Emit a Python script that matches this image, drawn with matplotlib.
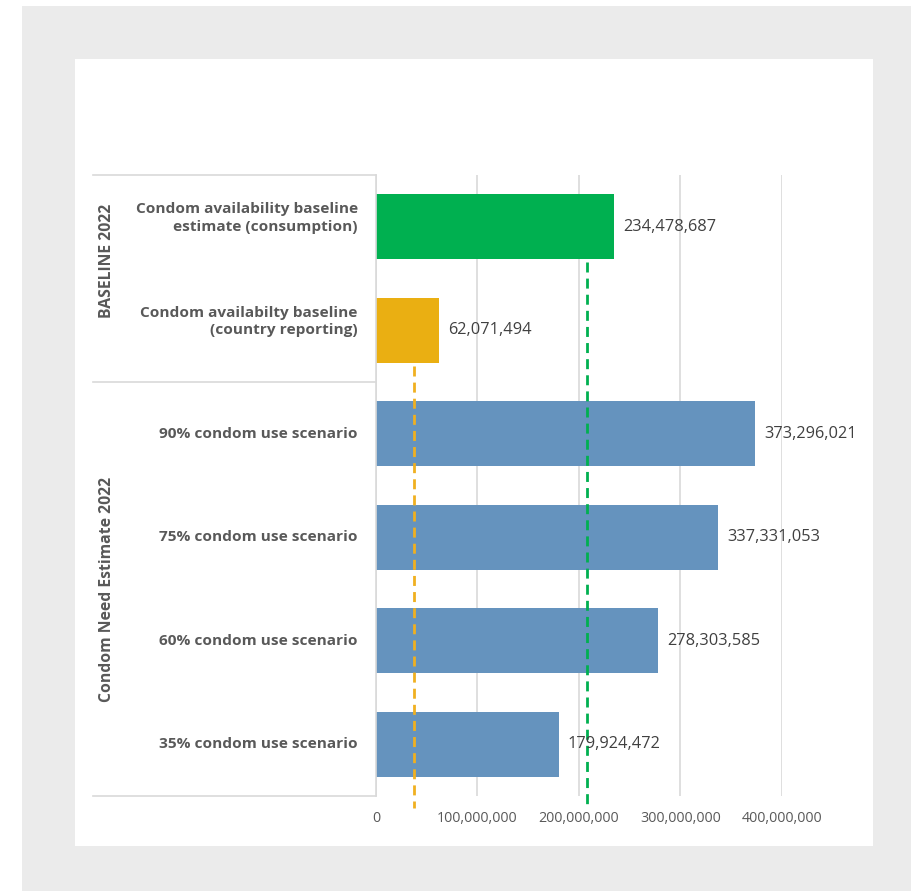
import matplotlib
matplotlib.use("Agg")
import matplotlib.pyplot as plt
from matplotlib.patches import Rectangle
from matplotlib.lines import Line2D
from matplotlib.ticker import FuncFormatter

plt.rcParams['font.family'] = ['Open Sans', 'DejaVu Sans']

# ---- data ----
categories = [
    "Condom availability baseline\nestimate (consumption)",
    "Condom availabilty baseline\n(country reporting)",
    "90% condom use scenario",
    "75% condom use scenario",
    "60% condom use scenario",
    "35% condom use scenario",
]
values = [234478687, 62071494, 373296021, 337331053, 278303585, 179924472]
bar_colors = ["#00B050", "#EAAF12", "#6593BE", "#6593BE", "#6593BE", "#6593BE"]
groups = ["BASELINE 2022", "Condom Need Estimate 2022"]
group_sizes = [2, 4]
reference_lines = [208000000, 37400000]   # green, yellow reference levels
reference_colors = ["#00B050", "#F0B020"]
reference_start = [0, 1]                  # category row each line starts below
x_ticks = [0, 100000000, 200000000, 300000000, 400000000]

W, H = 912, 891
fig = plt.figure(figsize=(W / 100, H / 100), dpi=100)
fig.patch.set_facecolor("white")

def px_rect(x0, y0, x1, y1, color):
    fig.add_artist(Rectangle((x0 / W, 1 - y1 / H), (x1 - x0) / W, (y1 - y0) / H,
                             transform=fig.transFigure, facecolor=color,
                             edgecolor="none", zorder=-10))

px_rect(22, 6, 912, 891, "#EBEBEB")
px_rect(75, 59, 873, 846, "white")

ax_l, ax_r, ax_t, ax_b = 376, 782, 175, 796
ax = fig.add_axes([ax_l / W, 1 - ax_b / H, (ax_r - ax_l) / W, (ax_b - ax_t) / H])
ax.set_facecolor("none")

n = len(categories)
ypos = list(range(n))
bar_h = 0.63
ax.barh(ypos, values, height=bar_h, color=bar_colors, zorder=2)
ax.set_ylim(n - 0.5, -0.5)
ax.set_xlim(0, x_ticks[-1])

# value labels
for y, v in zip(ypos, values):
    ax.text(v + 9e6, y, f"{v:,}", va="center", ha="left", fontsize=11.8,
            color="#404040", zorder=4, clip_on=False)

# dashed reference lines, extending just below the axis
y_bottom = n - 0.5 + 12 / ((ax_b - ax_t) / n)
for val, col, start in zip(reference_lines, reference_colors, reference_start):
    ax.plot([val, val], [start + bar_h / 2 + 0.03, y_bottom], color=col,
            lw=2.0, dashes=(3.6, 2.2), zorder=3, clip_on=False,
            solid_capstyle="butt", dash_capstyle="butt")

# grid & axes
ax.set_xticks(x_ticks)
ax.xaxis.set_major_formatter(FuncFormatter(lambda v, p: f"{int(v):,}"))
ax.tick_params(axis="x", length=0, pad=11, labelsize=10.3, labelcolor="#595959")
ax.grid(axis="x", color="#D9D9D9", lw=1.2, zorder=0)
ax.set_yticks([])
for s in ["top", "right", "bottom"]:
    ax.spines[s].set_visible(False)
ax.spines["left"].set_color("#D9D9D9")
ax.spines["left"].set_linewidth(1.2)

# category labels
for y, c in zip(ypos, categories):
    ax.text(-18e6, y - (0.085 if "\n" in c else 0.0), c, ha="right", va="center",
            fontsize=11.1, fontweight="bold", color="#595959",
            linespacing=1.3, clip_on=False)

# group separators and labels
ppu = (ax_b - ax_t) / n
box_left = 93
edges = [ax_t]
acc = 0
for g in group_sizes:
    acc += g
    edges.append(ax_t + acc * ppu)
for ypx in edges:
    fig.add_artist(Line2D([box_left / W, ax_l / W], [1 - ypx / H, 1 - ypx / H],
                          transform=fig.transFigure, color="#D9D9D9", lw=1.2))
group_centers = [261, (edges[1] + edges[2]) / 2]
for g, yc in zip(groups, group_centers):
    fig.text(107 / W, 1 - yc / H, g, rotation=90, ha="center", va="center",
             fontsize=11.3, fontweight="bold", color="#595959")

fig.savefig("out.png", dpi=100)
